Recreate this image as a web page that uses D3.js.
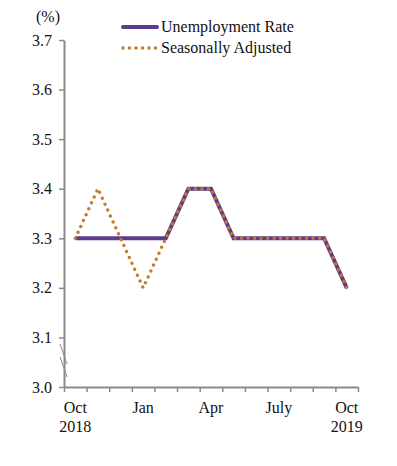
<!DOCTYPE html>
<html>
<head>
<meta charset="utf-8">
<script src="https://cdn.jsdelivr.net/npm/d3@7"></script>
<style>
  body { margin: 0; background: #fff; }
  text { font-family: "Liberation Serif", "Times New Roman", serif; fill: #111; }
</style>
</head>
<body>
<svg id="chart" width="397" height="466"></svg>
<script>
// data
const months = ['Oct18', 'Nov', 'Dec', 'Jan', 'Feb', 'Mar', 'Apr', 'May', 'Jun', 'Jul', 'Aug', 'Sep', 'Oct19'];
const unemployment = [3.3, 3.3, 3.3, 3.3, 3.3, 3.4, 3.4, 3.3, 3.3, 3.3, 3.3, 3.3, 3.2];
const seasonallyAdjusted = [3.3, 3.4, 3.3, 3.2, 3.3, 3.4, 3.4, 3.3, 3.3, 3.3, 3.3, 3.3, 3.2];
const yTicks = [3.0, 3.1, 3.2, 3.3, 3.4, 3.5, 3.6, 3.7];
const xLabels = [
  {month: 'Oct18', lines: ['Oct', '2018']},
  {month: 'Jan', lines: ['Jan']},
  {month: 'Apr', lines: ['Apr']},
  {month: 'Jul', lines: ['July']},
  {month: 'Oct19', lines: ['Oct', '2019']},
];

const PLOT = {left: 64, right: 358, top: 40, bottom: 387};
const AXIS_COLOR = '#8a8a8a';
const FONT_SIZE = '16px';

const svg = d3.select('#chart');

const x = d3.scaleBand().domain(months).range([PLOT.left, PLOT.right]);
const y = d3.scaleLinear().domain([3.0, 3.7]).range([PLOT.bottom, PLOT.top]);
const cx = (m) => x(m) + x.bandwidth() / 2;

// y axis
const yAxis = svg.append('g')
  .attr('transform', `translate(${PLOT.left},0)`)
  .call(d3.axisLeft(y).tickValues(yTicks).tickFormat(d3.format('.1f')).tickSize(5).tickSizeOuter(0));
yAxis.select('.domain').attr('stroke', AXIS_COLOR).attr('stroke-width', 2);
yAxis.selectAll('.tick line').attr('stroke', AXIS_COLOR).attr('stroke-width', 1.5);
yAxis.selectAll('.tick text')
  .attr('x', -12)
  .style('font-family', '"Liberation Serif", serif')
  .style('font-size', FONT_SIZE)
  .attr('fill', '#111');

// x axis, ticks at band edges
const xEdges = months.map((m) => x(m)).concat([PLOT.right]);
const xAxis = svg.append('g')
  .attr('transform', `translate(0,${PLOT.bottom})`)
  .call(d3.axisBottom(d3.scaleLinear().domain([PLOT.left, PLOT.right]).range([PLOT.left, PLOT.right]))
    .tickValues(xEdges).tickSize(5).tickSizeOuter(0).tickFormat(''));
xAxis.select('.domain').attr('stroke', AXIS_COLOR).attr('stroke-width', 2);
xAxis.selectAll('.tick line').attr('stroke', AXIS_COLOR).attr('stroke-width', 1.5);

// x labels
const labels = svg.append('g');
xLabels.forEach((d) => {
  const t = labels.append('text')
    .attr('x', cx(d.month))
    .attr('y', PLOT.bottom + 26)
    .attr('text-anchor', 'middle')
    .style('font-size', FONT_SIZE);
  d.lines.forEach((line, i) => {
    t.append('tspan').attr('x', cx(d.month)).attr('dy', i === 0 ? 0 : 19).text(line);
  });
});

// axis break marks
svg.append('g').selectAll('line')
  .data([0, 13])
  .join('line')
  .attr('x1', PLOT.left - 4)
  .attr('y1', (d) => 344 + d)
  .attr('x2', PLOT.left + 3)
  .attr('y2', (d) => 364 + d)
  .attr('stroke', AXIS_COLOR)
  .attr('stroke-width', 1);

// unit label
svg.append('text')
  .attr('x', 48)
  .attr('y', 22)
  .attr('text-anchor', 'middle')
  .style('font-size', FONT_SIZE)
  .text('(%)');

// lines
const line = d3.line()
  .x((d, i) => cx(months[i]))
  .y((d) => y(d));

svg.append('path')
  .datum(unemployment)
  .attr('d', line)
  .attr('fill', 'none')
  .attr('stroke', '#5e3b8c')
  .attr('stroke-width', 4);

svg.append('path')
  .datum(seasonallyAdjusted)
  .attr('d', line)
  .attr('fill', 'none')
  .attr('stroke', '#c27a2e')
  .attr('stroke-width', 3.5)
  .attr('stroke-linecap', 'round')
  .attr('stroke-dasharray', '0,6.5');

// legend
const legend = svg.append('g');
legend.append('line')
  .attr('x1', 123).attr('x2', 157).attr('y1', 27).attr('y2', 27)
  .attr('stroke', '#5e3b8c').attr('stroke-width', 4).attr('stroke-linecap', 'round');
legend.append('line')
  .attr('x1', 123).attr('x2', 157).attr('y1', 48).attr('y2', 48)
  .attr('stroke', '#c27a2e').attr('stroke-width', 3.5)
  .attr('stroke-linecap', 'round').attr('stroke-dasharray', '0,6.5');
legend.append('text').attr('x', 161).attr('y', 32).style('font-size', FONT_SIZE).text('Unemployment Rate');
legend.append('text').attr('x', 161).attr('y', 53).style('font-size', FONT_SIZE).text('Seasonally Adjusted');
</script>
</body>
</html>
